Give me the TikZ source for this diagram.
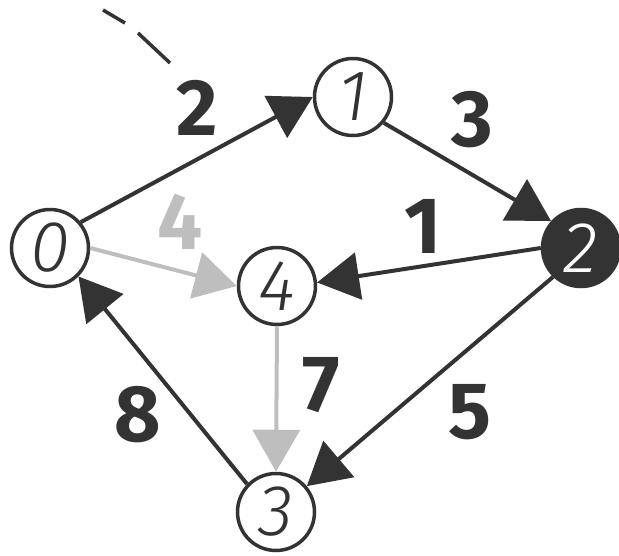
\documentclass[tikz,border=0pt]{standalone}
\usepackage{fontspec}
\usetikzlibrary{arrows.meta}
\IfFontExistsTF{Fira Sans Light}{\newfontfamily\nodefont{Fira Sans Light}}{\newfontfamily\nodefont{Fira Sans}}
\newfontfamily\weightfont{Fira Sans}
\definecolor{ink}{HTML}{333333}
\definecolor{pale}{HTML}{BEBEBE}
\begin{document}
\begin{tikzpicture}[x=1pt,y=-1pt,
  vert/.style={circle,draw=ink,line width=3.5pt,minimum size=77pt,inner sep=0pt,
    font=\nodefont\itshape\fontsize{72}{72}\selectfont,text=ink},
  vertfull/.style={vert,fill=ink,text=white},
  edge/.style={draw=ink,line width=4pt,-{Triangle[length=42pt,width=47pt]}},
  edgepale/.style={draw=pale,line width=4pt,-{Triangle[length=42pt,width=47pt]}},
  wt/.style={font=\weightfont\bfseries\fontsize{80}{80}\selectfont,text=ink,inner sep=0pt},
  wtpale/.style={wt,text=pale},
  dashline/.style={draw=ink,line width=3.5pt}]
\useasboundingbox (0,0) rectangle (619,555);
\node[vert] (n0) at (50,248) {0};
\node[vert] (n1) at (353,97) {1};
\node[vertfull] (n2) at (581,248) {2};
\node[vert] (n3) at (276,512) {3};
\node[vert] (n4) at (277,286) {4};
\draw[edge] (n0.40) -- (n1.180);
\draw[edge] (n1.320) -- (n2.138);
\draw[edge] (n2.180) -- (n4.5);
\draw[edgepale] (n0.0) -- (n4.180);
\draw[edgepale] (n4.270) -- (n3.90);
\draw[edge] (n3.136) -- (n0.315);
\draw[edge] (n2.226) -- (n3.40);
\node[wt] (w01) at (197,108) {2};
\node[wt] (w12) at (472,120) {3};
\node[wt] (w24) at (423,226) {1};
\node[wtpale] (w04) at (180,222) {4};
\node[wt] (w43) at (321,385) {7};
\node[wt] (w30) at (138,415) {8};
\node[wt] (w23) at (470,412) {5};
\coordinate (d1a) at (103,10);
\coordinate (d1b) at (125,23);
\coordinate (d2a) at (138,33);
\coordinate (d2b) at (170,63);
\draw[dashline] (d1a) -- (d1b);
\draw[dashline] (d2a) -- (d2b);
\end{tikzpicture}
\end{document}
